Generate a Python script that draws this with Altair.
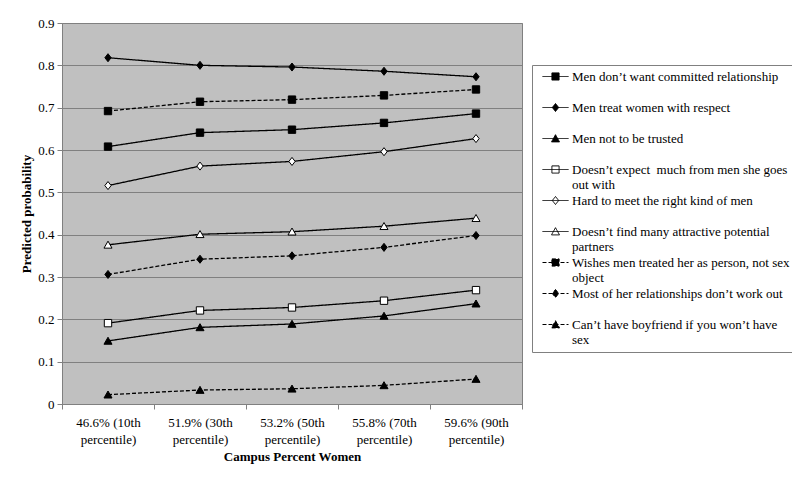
import altair as alt
import pandas as pd

categories = [
    "46.6% (10th percentile)",
    "51.9% (30th percentile)",
    "53.2% (50th percentile)",
    "55.8% (70th percentile)",
    "59.6% (90th percentile)",
]

series = [
    "Men don’t want committed relationship",
    "Men treat women with respect",
    "Men not to be trusted",
    "Doesn’t expect\u00a0 much from men she goes|out with",
    "Hard to meet the right kind of men",
    "Doesn’t find many attractive potential|partners",
    "Wishes men treated her as person, not sex|object",
    "Most of her relationships don’t work out",
    "Can’t have boyfriend if you won’t have|sex",
]

v_committed = [0.608, 0.641, 0.648, 0.664, 0.686]
v_respect = [0.818, 0.800, 0.796, 0.786, 0.773]
v_trusted = [0.149, 0.181, 0.189, 0.208, 0.237]
v_expect = [0.191, 0.221, 0.228, 0.244, 0.269]
v_hard = [0.516, 0.562, 0.573, 0.596, 0.627]
v_attractive = [0.376, 0.401, 0.407, 0.420, 0.439]
v_wishes = [0.692, 0.714, 0.719, 0.729, 0.743]
v_most = [0.306, 0.342, 0.350, 0.370, 0.398]
v_boyfriend = [0.022, 0.033, 0.036, 0.044, 0.059]

all_values = [v_committed, v_respect, v_trusted, v_expect, v_hard,
              v_attractive, v_wishes, v_most, v_boyfriend]

y_ticks = [0, 0.1, 0.2, 0.3, 0.4, 0.5, 0.6, 0.7, 0.8, 0.9]

# styles per series
dashes = [[1, 0], [1, 0], [1, 0], [1, 0], [1, 0], [1, 0], [4, 2], [4, 2], [4, 2]]
fills = ["black", "black", "black", "white", "white", "white", "black", "black", "black"]

SQ = "M-1.05,-1.05H1.05V1.05H-1.05Z"
DI = "M0,-1.15L0.9,0L0,1.15L-0.9,0Z"
TR = "M0,-1.05L1.15,0.95H-1.15Z"
plot_shapes = [SQ, DI, TR, SQ, DI, TR, SQ, DI, TR]

LSQ = "M-3.25,0H3.25M-0.9,-0.9H0.9V0.9H-0.9Z"
LDI = "M-3.25,0H3.25M0,-1.0L0.8,0L0,1.0L-0.8,0Z"
LTR = "M-3.25,0H3.25M0,-0.95L1.0,0.85H-1.0Z"
legend_shapes = [LSQ, LDI, LTR, LSQ, LDI, LTR, LSQ, LDI, LTR]

rows = []
for s, vals in zip(series, all_values):
    for c, v in zip(categories, vals):
        rows.append({"category": c, "series": s, "value": v})
df = pd.DataFrame(rows)

FONT = "Liberation Serif"

x_enc = alt.X(
    "category:N",
    sort=categories,
    scale=alt.Scale(domain=categories, paddingInner=0, paddingOuter=0),
    axis=alt.Axis(
        title="Campus Percent Women",
        labelAngle=0,
        labelExpr="indexof(datum.label, ' percentile') < 0 ? '' : [slice(datum.label, 0, indexof(datum.label, ' percentile')), 'percentile)']",
        labelLineHeight=17,
        labelPadding=7,
        tickBand="extent",
        tickSize=5,
        tickColor="#808080",
        domainColor="#808080",
        titlePadding=4,
        grid=False,
    ),
)
y_enc = alt.Y(
    "value:Q",
    scale=alt.Scale(domain=[0, 0.9], nice=False, zero=True),
    axis=alt.Axis(
        title="Predicted probability",
        values=y_ticks,
        format="~g",
        tickSize=5,
        tickColor="#808080",
        domainColor="#808080",
        labelPadding=3,
        titlePadding=4,
        grid=True,
        gridColor="#808080",
        gridWidth=1,
    ),
)

legend = alt.Legend(
    title=None,
    orient="none",
    legendX=470,
    legendY=42,
    labelExpr="indexof(datum.label, '|') >= 0 ? split(datum.label, '|') : [datum.label, ' ']",
    labelFont=FONT,
    labelFontSize=13,
    labelColor="black",
    labelLimit=400,
    labelOffset=10,
    symbolOffset=12,
    symbolSize=64,
    symbolStrokeWidth=1,
    padding=5,
    rowPadding=2,
    strokeColor="#808080",
    fillColor="white",
)

base = alt.Chart(df)

lines = base.mark_line(color="black", strokeWidth=1.3).encode(
    x=x_enc,
    y=y_enc,
    strokeDash=alt.StrokeDash("series:N", scale=alt.Scale(domain=series, range=dashes), legend=None),
)

points = base.mark_point(filled=True, opacity=1, stroke="black", strokeWidth=1, size=49).encode(
    x=x_enc,
    y=y_enc,
    shape=alt.Shape("series:N", scale=alt.Scale(domain=series, range=plot_shapes), legend=None),
    fill=alt.Fill("series:N", scale=alt.Scale(domain=series, range=fills), legend=None),
)

legend_layer = base.transform_filter("false").mark_point(
    filled=True, opacity=1, stroke="black", strokeWidth=1
).encode(
    x=x_enc,
    y=y_enc,
    shape=alt.Shape("series:N", scale=alt.Scale(domain=series, range=legend_shapes), legend=legend),
    fill=alt.Fill("series:N", scale=alt.Scale(domain=series, range=fills), legend=legend),
    strokeDash=alt.StrokeDash("series:N", scale=alt.Scale(domain=series, range=dashes), legend=legend),
)

chart = (
    alt.layer(lines, points, legend_layer)
    .resolve_scale(shape="independent", fill="independent", strokeDash="independent")
    .properties(
        width=460,
        height=381,
        autosize=alt.AutoSizeParams(type="none"),
        padding={"left": 54, "top": 15, "right": 270, "bottom": 70},
        background="white",
    )
    .configure_view(fill="#C0C0C0", stroke="#808080", strokeWidth=1)
    .configure_axis(
        labelFont=FONT,
        labelFontSize=13,
        labelColor="black",
        titleFont=FONT,
        titleFontSize=13,
        titleFontWeight="bold",
        titleColor="black",
    )
)

chart.save("out.html", embed_options={"renderer": "svg", "actions": False})
